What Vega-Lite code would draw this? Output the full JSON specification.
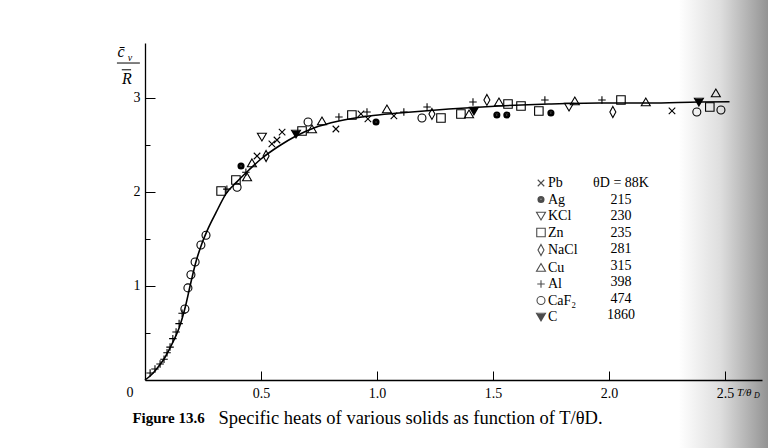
{
  "$schema": "https://vega.github.io/schema/vega-lite/v6.json",
  "width": 617,
  "height": 337,
  "autosize": {"type": "none"},
  "padding": {"left": 145, "top": 43, "right": 6, "bottom": 68},
  "background": "white",
  "config": {"view": {"stroke": null}, "font": "Liberation Serif", "axis": {"labelOverlap": false, "labelBound": false, "labelFlush": false}},
  "title": {"text": "Figure 13.6", "orient": "bottom", "anchor": "start", "font": "Liberation Serif", "fontSize": 15, "fontWeight": "bold", "color": "black", "dx": 16, "offset": -18, "dy": -22},
  "data": {"values": [{"note": "annotation"}]},
  "datasets": {
    "materials": [
      {"species": "Pb", "theta": "θD = 88K"},
      {"species": "Ag", "theta": "215"},
      {"species": "KCl", "theta": "230"},
      {"species": "Zn", "theta": "235"},
      {"species": "NaCl", "theta": "281"},
      {"species": "Cu", "theta": "315"},
      {"species": "Al", "theta": "398"},
      {"species": "CaF₂", "theta": "474"},
      {"species": "C", "theta": "1860"}
    ],
    "points": [
      {"species": "Pb", "x": 0.483, "y": 2.383},
      {"species": "Pb", "x": 0.547, "y": 2.511},
      {"species": "Pb", "x": 0.569, "y": 2.553},
      {"species": "Pb", "x": 0.591, "y": 2.638},
      {"species": "Pb", "x": 0.823, "y": 2.67},
      {"species": "Pb", "x": 0.931, "y": 2.83},
      {"species": "Pb", "x": 0.961, "y": 2.777},
      {"species": "Pb", "x": 1.073, "y": 2.809},
      {"species": "Pb", "x": 2.272, "y": 2.862},
      {"species": "Ag", "x": 0.414, "y": 2.277},
      {"species": "Ag", "x": 0.996, "y": 2.745},
      {"species": "Ag", "x": 1.517, "y": 2.819},
      {"species": "Ag", "x": 1.56, "y": 2.819},
      {"species": "Ag", "x": 1.75, "y": 2.84},
      {"species": "KCl", "x": 0.504, "y": 2.585},
      {"species": "KCl", "x": 1.828, "y": 2.904},
      {"species": "Zn", "x": 0.328, "y": 2.01},
      {"species": "Zn", "x": 0.392, "y": 2.128},
      {"species": "Zn", "x": 0.677, "y": 2.649},
      {"species": "Zn", "x": 0.892, "y": 2.819},
      {"species": "Zn", "x": 1.276, "y": 2.787},
      {"species": "Zn", "x": 1.362, "y": 2.83},
      {"species": "Zn", "x": 1.565, "y": 2.936},
      {"species": "Zn", "x": 1.621, "y": 2.915},
      {"species": "Zn", "x": 1.698, "y": 2.862},
      {"species": "Zn", "x": 2.052, "y": 2.979},
      {"species": "Zn", "x": 2.435, "y": 2.904},
      {"species": "NaCl", "x": 0.522, "y": 2.383},
      {"species": "NaCl", "x": 1.237, "y": 2.83},
      {"species": "NaCl", "x": 1.474, "y": 2.979},
      {"species": "NaCl", "x": 2.017, "y": 2.851},
      {"species": "Cu", "x": 0.44, "y": 2.16},
      {"species": "Cu", "x": 0.461, "y": 2.309},
      {"species": "Cu", "x": 0.72, "y": 2.67},
      {"species": "Cu", "x": 0.763, "y": 2.755},
      {"species": "Cu", "x": 1.043, "y": 2.883},
      {"species": "Cu", "x": 1.397, "y": 2.83},
      {"species": "Cu", "x": 1.526, "y": 2.957},
      {"species": "Cu", "x": 1.853, "y": 2.968},
      {"species": "Cu", "x": 2.159, "y": 2.957},
      {"species": "Cu", "x": 2.461, "y": 3.053},
      {"species": "Al", "x": 0.022, "y": 0.074},
      {"species": "Al", "x": 0.043, "y": 0.117},
      {"species": "Al", "x": 0.065, "y": 0.17},
      {"species": "Al", "x": 0.082, "y": 0.22},
      {"species": "Al", "x": 0.095, "y": 0.29},
      {"species": "Al", "x": 0.108, "y": 0.35},
      {"species": "Al", "x": 0.12, "y": 0.44},
      {"species": "Al", "x": 0.134, "y": 0.51},
      {"species": "Al", "x": 0.147, "y": 0.6},
      {"species": "Al", "x": 0.16, "y": 0.71},
      {"species": "Al", "x": 0.353, "y": 2.03},
      {"species": "Al", "x": 0.435, "y": 2.21},
      {"species": "Al", "x": 0.836, "y": 2.798},
      {"species": "Al", "x": 0.957, "y": 2.851},
      {"species": "Al", "x": 1.116, "y": 2.851},
      {"species": "Al", "x": 1.216, "y": 2.904},
      {"species": "Al", "x": 1.414, "y": 2.957},
      {"species": "Al", "x": 1.724, "y": 2.979},
      {"species": "Al", "x": 1.97, "y": 2.979},
      {"species": "CaF₂", "x": 0.172, "y": 0.755},
      {"species": "CaF₂", "x": 0.185, "y": 0.98},
      {"species": "CaF₂", "x": 0.198, "y": 1.12},
      {"species": "CaF₂", "x": 0.216, "y": 1.255},
      {"species": "CaF₂", "x": 0.241, "y": 1.436},
      {"species": "CaF₂", "x": 0.263, "y": 1.54},
      {"species": "CaF₂", "x": 0.397, "y": 2.05},
      {"species": "CaF₂", "x": 0.703, "y": 2.745},
      {"species": "CaF₂", "x": 1.194, "y": 2.787},
      {"species": "CaF₂", "x": 2.379, "y": 2.851},
      {"species": "CaF₂", "x": 2.483, "y": 2.872},
      {"species": "C", "x": 0.651, "y": 2.617},
      {"species": "C", "x": 1.418, "y": 2.862},
      {"species": "C", "x": 2.388, "y": 2.957}
    ],
    "curve": [
      {"x": 0, "y": 0}, {"x": 0.017, "y": 0.032}, {"x": 0.039, "y": 0.085}, {"x": 0.06, "y": 0.149},
      {"x": 0.082, "y": 0.223}, {"x": 0.103, "y": 0.319}, {"x": 0.125, "y": 0.426}, {"x": 0.147, "y": 0.553},
      {"x": 0.172, "y": 0.76}, {"x": 0.198, "y": 1.04}, {"x": 0.22, "y": 1.26}, {"x": 0.245, "y": 1.45},
      {"x": 0.27, "y": 1.6}, {"x": 0.306, "y": 1.78}, {"x": 0.349, "y": 1.98}, {"x": 0.397, "y": 2.11},
      {"x": 0.448, "y": 2.234}, {"x": 0.5, "y": 2.351}, {"x": 0.578, "y": 2.489}, {"x": 0.651, "y": 2.596},
      {"x": 0.728, "y": 2.681}, {"x": 0.836, "y": 2.755}, {"x": 0.966, "y": 2.809}, {"x": 1.095, "y": 2.84},
      {"x": 1.31, "y": 2.883}, {"x": 1.526, "y": 2.915}, {"x": 1.741, "y": 2.936}, {"x": 1.957, "y": 2.947},
      {"x": 2.172, "y": 2.947}, {"x": 2.388, "y": 2.957}, {"x": 2.52, "y": 2.96}
    ]
  },
  "layer": [
    {
      "mark": {"type": "rect", "fill": {"gradient": "linear", "x1": 0, "y1": 0, "x2": 1, "y2": 0, "stops": [{"offset": 0, "color": "#ffffff"}, {"offset": 0.45, "color": "#dedede"}, {"offset": 1, "color": "#8e8e8e"}]}},
      "encoding": {
        "x": {"datum": 2.3, "type": "quantitative", "scale": {"domain": [0, 2.66], "nice": false}, "axis": {"labelOverlap": false}},
        "x2": {"datum": 2.7},
        "y": {"datum": 4.1, "type": "quantitative", "scale": {"domain": [0, 3.585], "nice": false}, "axis": {"labelOverlap": false}},
        "y2": {"datum": -0.75}
      }
    },
    {
      "data": {"name": "curve"},
      "mark": {"type": "line", "color": "black", "strokeWidth": 1.6, "interpolate": "monotone"},
      "encoding": {
        "x": {"field": "x", "type": "quantitative", "scale": {"domain": [0, 2.66], "nice": false},
          "axis": {"values": [0.5, 1.0, 1.5, 2.0, 2.5], "format": ".1f",
            "tickSize": -9,
            "tickColor": "black", "tickWidth": 1, "domainColor": "black", "domainWidth": 1.3, "grid": false, "zindex": 1,
            "labelFont": "Liberation Serif", "labelFontSize": 14, "labelColor": "black", "labelPadding": 15, "labelFlush": false, "labelOverlap": false,
            "title": "Specific heats of various solids as function of T/θD.", "titleFont": "Liberation Serif", "titleFontSize": 18.5, "titleFontWeight": "normal", "titleColor": "black",
            "titleX": 73, "titleY": 43, "titleAlign": "left", "titleAnchor": "start", "titleBaseline": "alphabetic"}},
        "y": {"field": "y", "type": "quantitative", "scale": {"domain": [0, 3.585], "nice": false},
          "axis": {"values": [0.5, 1, 1.5, 2, 2.5, 3],
            "tickSize": {"condition": {"test": "datum.value % 1 == 0", "value": -10}, "value": -5},
            "tickColor": "black", "tickWidth": 1, "domainColor": "black", "domainWidth": 1.3, "grid": false, "zindex": 1,
            "labelExpr": "datum.value % 1 == 0 ? format(datum.value, 'd') : ''",
            "labelFont": "Liberation Serif", "labelFontSize": 14, "labelColor": "black", "labelPadding": 15, "labelOverlap": false, "title": null}}
      }
    },
    {
      "data": {"name": "points"},
      "transform": [{"lookup": "species", "from": {"data": {"name": "materials"}, "key": "species", "fields": ["theta"]}}],
      "mark": {"type": "point", "filled": false, "size": 100, "color": "black", "strokeWidth": 1.1},
      "encoding": {
        "x": {"field": "x", "type": "quantitative", "scale": {"domain": [0, 2.66], "nice": false}, "axis": {"labelOverlap": false}},
        "y": {"field": "y", "type": "quantitative", "scale": {"domain": [0, 3.585], "nice": false}, "axis": {"labelOverlap": false}},
        "shape": {"field": "species", "type": "nominal",
          "scale": {"domain": ["Pb", "Ag", "KCl", "Zn", "NaCl", "Cu", "Al", "CaF₂", "C"],
            "range": ["M-0.65,-0.65L0.65,0.65M-0.65,0.65L0.65,-0.65",
              "M0.6,0A0.6,0.6,0,1,1,-0.6,0A0.6,0.6,0,1,1,0.6,0ZM0.4,0A0.4,0.4,0,1,1,-0.4,0A0.4,0.4,0,1,1,0.4,0ZM0.2,0A0.2,0.2,0,1,1,-0.2,0A0.2,0.2,0,1,1,0.2,0Z",
              "M0,0.8L0.9,-0.75L-0.9,-0.75Z",
              "M-0.85,-0.85H0.85V0.85H-0.85Z",
              "M0,-1.1L0.6,0L0,1.1L-0.6,0Z",
              "M0,-0.8L0.9,0.75L-0.9,0.75Z",
              "M-0.75,0H0.75M0,-0.75V0.75",
              "M0.8,0A0.8,0.8,0,1,1,-0.8,0A0.8,0.8,0,1,1,0.8,0Z",
              "M0,0.8L0.9,-0.75L-0.9,-0.75ZM0,0.45L0.55,-0.5L-0.55,-0.5ZM0,0.1L0.2,-0.3L-0.2,-0.3Z"]},
          "legend": {"orient": "none", "legendX": 389, "legendY": 133, "title": null, "padding": 0, "labelFont": "Liberation Serif", "labelFontSize": 14, "labelColor": "black", "symbolSize": 100, "symbolStrokeColor": "black", "symbolStrokeWidth": 1.1, "symbolFillColor": "transparent", "rowPadding": 2.5, "labelOffset": 0}},
        "opacity": {"field": "theta", "type": "nominal",
          "scale": {"domain": ["θD = 88K", "215", "230", "235", "281", "315", "398", "474", "1860"], "range": [1, 1]},
          "legend": {"orient": "none", "legendX": 458, "legendY": 133, "title": null, "padding": 0, "labelFont": "Liberation Serif", "labelFontSize": 14, "labelColor": "black", "labelAlign": "center", "symbolSize": 16, "symbolStrokeColor": "transparent", "symbolFillColor": "transparent", "rowPadding": 2.5, "labelOffset": 4}}
      }
    },
    {
      "mark": {"type": "text", "text": "0", "font": "Liberation Serif", "fontSize": 14, "fill": "black", "dx": -15, "dy": 13},
      "encoding": {
        "x": {"datum": 0, "type": "quantitative", "scale": {"domain": [0, 2.66], "nice": false}, "axis": {"labelOverlap": false}},
        "y": {"datum": 0, "type": "quantitative", "scale": {"domain": [0, 3.585], "nice": false}, "axis": {"labelOverlap": false}}
      }
    },
    {
      "mark": {"type": "text", "text": "T/θ", "font": "Liberation Serif", "fontStyle": "italic", "fontSize": 11, "fill": "black", "align": "left", "dx": 12, "dy": 13},
      "encoding": {
        "x": {"datum": 2.5, "type": "quantitative", "scale": {"domain": [0, 2.66], "nice": false}, "axis": {"labelOverlap": false}},
        "y": {"datum": 0, "type": "quantitative", "scale": {"domain": [0, 3.585], "nice": false}, "axis": {"labelOverlap": false}}
      }
    },
    {
      "mark": {"type": "text", "text": "D", "font": "Liberation Serif", "fontStyle": "italic", "fontSize": 8, "fill": "black", "align": "left", "dx": 29, "dy": 16},
      "encoding": {
        "x": {"datum": 2.5, "type": "quantitative", "scale": {"domain": [0, 2.66], "nice": false}, "axis": {"labelOverlap": false}},
        "y": {"datum": 0, "type": "quantitative", "scale": {"domain": [0, 3.585], "nice": false}, "axis": {"labelOverlap": false}}
      }
    },
    {
      "mark": {"type": "text", "text": "c̄", "font": "Liberation Serif", "fontStyle": "italic", "fontSize": 16, "fill": "black", "dx": -24},
      "encoding": {
        "x": {"datum": 0, "type": "quantitative", "scale": {"domain": [0, 2.66], "nice": false}, "axis": {"labelOverlap": false}},
        "y": {"datum": 3.49, "type": "quantitative", "scale": {"domain": [0, 3.585], "nice": false}, "axis": {"labelOverlap": false}}
      }
    },
    {
      "mark": {"type": "text", "text": "v", "font": "Liberation Serif", "fontStyle": "italic", "fontSize": 10, "fill": "black", "dx": -15},
      "encoding": {
        "x": {"datum": 0, "type": "quantitative", "scale": {"domain": [0, 2.66], "nice": false}, "axis": {"labelOverlap": false}},
        "y": {"datum": 3.43, "type": "quantitative", "scale": {"domain": [0, 3.585], "nice": false}, "axis": {"labelOverlap": false}}
      }
    },
    {
      "mark": {"type": "rule", "color": "black", "strokeWidth": 1},
      "encoding": {
        "x": {"datum": -0.121, "type": "quantitative", "scale": {"domain": [0, 2.66], "nice": false}, "axis": {"labelOverlap": false}},
        "x2": {"datum": -0.022},
        "y": {"datum": 3.372, "type": "quantitative", "scale": {"domain": [0, 3.585], "nice": false}, "axis": {"labelOverlap": false}}
      }
    },
    {
      "mark": {"type": "rule", "color": "black", "strokeWidth": 1},
      "encoding": {
        "x": {"datum": -0.1, "type": "quantitative", "scale": {"domain": [0, 2.66], "nice": false}, "axis": {"labelOverlap": false}},
        "x2": {"datum": -0.06},
        "y": {"datum": 3.3, "type": "quantitative", "scale": {"domain": [0, 3.585], "nice": false}, "axis": {"labelOverlap": false}}
      }
    },
    {
      "mark": {"type": "text", "text": "R", "font": "Liberation Serif", "fontStyle": "italic", "fontSize": 16, "fill": "black", "dx": -18},
      "encoding": {
        "x": {"datum": 0, "type": "quantitative", "scale": {"domain": [0, 2.66], "nice": false}, "axis": {"labelOverlap": false}},
        "y": {"datum": 3.2, "type": "quantitative", "scale": {"domain": [0, 3.585], "nice": false}, "axis": {"labelOverlap": false}}
      }
    }
  ]
}
